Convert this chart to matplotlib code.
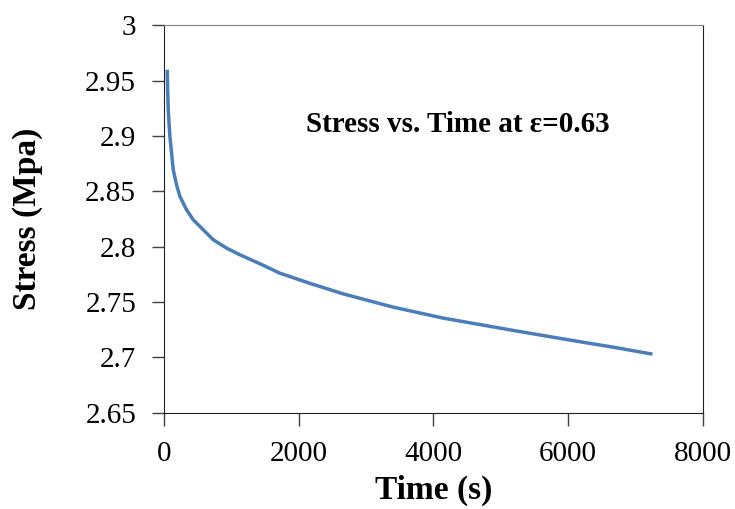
import numpy as np
import matplotlib.pyplot as plt
from matplotlib.ticker import FuncFormatter

plt.rcParams['font.family'] = ['Liberation Serif', 'DejaVu Serif']

# values
time_s = [49.5, 54.4, 64.3, 79.1, 89, 113.8, 138.5, 188, 237.5, 336, 435,
          584, 732, 930, 1128, 1425, 1721, 2166, 2660, 3403, 4144, 5134,
          6000, 6700, 7255]
stress_mpa = [2.9600, 2.9449, 2.9238, 2.9088, 2.8997, 2.8847, 2.8696, 2.8560,
              2.8455, 2.8335, 2.8244, 2.8154, 2.8064, 2.7988, 2.7928, 2.7847,
              2.7762, 2.767, 2.7575, 2.7455, 2.7356, 2.725, 2.716, 2.709, 2.703]

x_ticks = [0, 2000, 4000, 6000, 8000]
y_ticks = [2.65, 2.7, 2.75, 2.8, 2.85, 2.9, 2.95, 3.0]


def main():
    fig = plt.figure(figsize=(7.35, 5.09), dpi=100)
    ax = fig.add_axes([0.223, 0.189, 0.733, 0.761])

    ax.plot(time_s, stress_mpa, color='#4a7ebb', lw=2.5,
            solid_capstyle='butt', solid_joinstyle='round')

    ax.set_xlim(0, 8000)
    ax.set_ylim(2.65, 3.0)
    ax.set_xticks(x_ticks)
    ax.set_yticks(y_ticks)
    ax.yaxis.set_major_formatter(FuncFormatter(lambda v, p: '%g' % round(v, 2)))

    ax.tick_params(axis='both', direction='out', length=9, width=1,
                   labelsize=21, color='#404040')
    ax.tick_params(axis='x', pad=11)
    ax.tick_params(axis='y', pad=11)
    for side in ['left', 'bottom', 'right']:
        ax.spines[side].set_color('#202020')
    ax.spines['top'].set_color('#808080')

    ax.set_xlabel('Time (s)', fontsize=24, fontweight='bold')
    ax.set_ylabel('Stress (Mpa)', fontsize=24, fontweight='bold')
    ax.xaxis.set_label_coords(0.5, -0.161)
    ax.yaxis.set_label_coords(-0.2245, 0.5)

    ax.text(0.5455, 0.744, 'Stress vs. Time at ε=0.63', transform=ax.transAxes,
            fontsize=21, fontweight='bold', ha='center', va='center')

    fig.savefig('out.png', dpi=100)
    plt.close(fig)


if __name__ == '__main__':
    main()
